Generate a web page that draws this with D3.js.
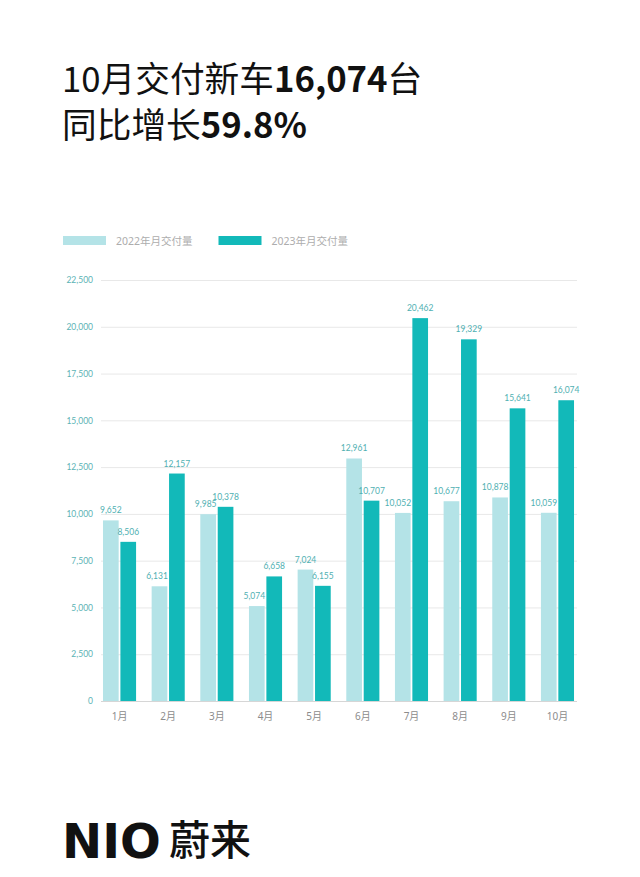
<!DOCTYPE html>
<html>
<head>
<meta charset="utf-8">
<script src="https://cdn.jsdelivr.net/npm/d3@7/dist/d3.min.js"></script>
<style>
  html, body { margin: 0; padding: 0; background: #ffffff; }
  svg { display: block; }
</style>
</head>
<body>
<div id="chart"></div>
<script>
const months = ["1月","2月","3月","4月","5月","6月","7月","8月","9月","10月"];
const series = ["2022年月交付量", "2023年月交付量"];
const deliveries2022 = [9652, 6131, 9985, 5074, 7024, 12961, 10052, 10677, 10878, 10059];
const deliveries2023 = [8506, 12157, 10378, 6658, 6155, 10707, 20462, 19329, 15641, 16074];
const yTicks = [0, 2500, 5000, 7500, 10000, 12500, 15000, 17500, 20000, 22500];
const titleLine1 = [["10月交付新车", false], ["16,074", true], ["台", false]];
const titleLine2 = [["同比增长", false], ["59.8%", true]];

const W = 640, H = 877;
const colors = ["#b4e3e7", "#12b9b9"];
const smallFont = "Lato, 'Noto Sans', 'Noto Sans CJK SC', sans-serif";
const cjkFont = "'Noto Sans CJK SC', 'Noto Sans', sans-serif";

const svg = d3.select("#chart").append("svg")
  .attr("width", W).attr("height", H)
  .style("background", "#ffffff");

// Title
function titleLine(parts, y) {
  const t = svg.append("text")
    .attr("x", 62).attr("y", y)
    .attr("font-family", cjkFont)
    .attr("font-size", 34.7)
    .attr("fill", "#111");
  parts.forEach(([s, b]) => {
    t.append("tspan").text(s).attr("font-weight", b ? 700 : 400);
  });
}
titleLine(titleLine1, 92);
titleLine(titleLine2, 138);

// Legend
const legend = svg.append("g");
series.forEach((name, i) => {
  const gx = 63 + i * 155.5;
  legend.append("rect").attr("x", gx).attr("y", 236).attr("width", 43).attr("height", 9)
    .attr("fill", colors[i]);
  legend.append("text").attr("x", gx + 53).attr("y", 244.5)
    .attr("font-family", "'Noto Sans', 'Noto Sans CJK SC', sans-serif").attr("font-size", 10.5)
    .attr("fill", "#adadad").text(name);
});

// Scales
const y = d3.scaleLinear().domain([0, 22500]).range([701, 280]);
const x0 = d3.scaleBand().domain(months).range([95.2, 581.8]).paddingInner(0.32).paddingOuter(0.16);
const x1 = d3.scaleBand().domain([0, 1]).range([0, x0.bandwidth()]).paddingInner(0.1);

// Grid + y labels
const yAxis = d3.axisLeft(y).tickValues(yTicks).tickFormat(d3.format(",")).tickSize(0).tickPadding(8);
const gy = svg.append("g").attr("transform", "translate(101,0)").call(yAxis);
gy.select(".domain").remove();
gy.selectAll("text").attr("font-family", smallFont).attr("font-size", 8.5).attr("fill", "#5bb3b5");
gy.selectAll(".tick").append("line")
  .attr("x1", 0).attr("x2", 476)
  .attr("stroke", d => d === 0 ? "#d6d6d6" : "#e8e8e8").attr("stroke-width", 1);

// Bars
const data = months.map((m, i) => ({ m, vals: [deliveries2022[i], deliveries2023[i]] }));
const groups = svg.append("g").selectAll("g").data(data).join("g")
  .attr("transform", d => `translate(${x0(d.m)},0)`);
groups.selectAll("rect").data(d => d.vals.map((v, k) => ({ v, k }))).join("rect")
  .attr("x", d => x1(d.k)).attr("width", x1.bandwidth())
  .attr("y", d => y(d.v)).attr("height", d => y(0) - y(d.v))
  .attr("fill", d => colors[d.k]);
// labels: a 2022 label is right-aligned to its bar when the 2023 bar beside it is taller
groups.selectAll("text.val").data(d => d.vals.map((v, k) => ({ v, k, other: d.vals[1 - k] }))).join("text")
  .attr("class", "val")
  .attr("x", d => (d.k === 0 && d.other > d.v) ? x1(d.k) + x1.bandwidth() + 0.5 : x1(d.k) + x1.bandwidth() / 2)
  .attr("y", d => y(d.v) - 7)
  .attr("text-anchor", d => (d.k === 0 && d.other > d.v) ? "end" : "middle")
  .attr("font-family", smallFont).attr("font-size", 8.5)
  .attr("fill", "#4fb0b2")
  .text(d => d3.format(",")(d.v));

// X axis labels
const xAxis = d3.axisBottom(x0).tickSize(0).tickPadding(12);
const gx = svg.append("g").attr("transform", "translate(0,701)").call(xAxis);
gx.select(".domain").remove();
gx.selectAll("text").attr("font-family", "'Noto Sans', 'Noto Sans CJK SC', sans-serif").attr("font-size", 10).attr("fill", "#8c8c8c");

// Logo
svg.append("text").attr("x", 62).attr("y", 858)
  .attr("font-family", "'DejaVu Sans', sans-serif").attr("font-weight", 700)
  .attr("font-size", 48).attr("fill", "#111").text("NIO");
svg.append("text").attr("x", 169).attr("y", 855)
  .attr("font-family", cjkFont).attr("font-weight", 500)
  .attr("font-size", 41).attr("fill", "#111").text("蔚来");
</script>
</body>
</html>
